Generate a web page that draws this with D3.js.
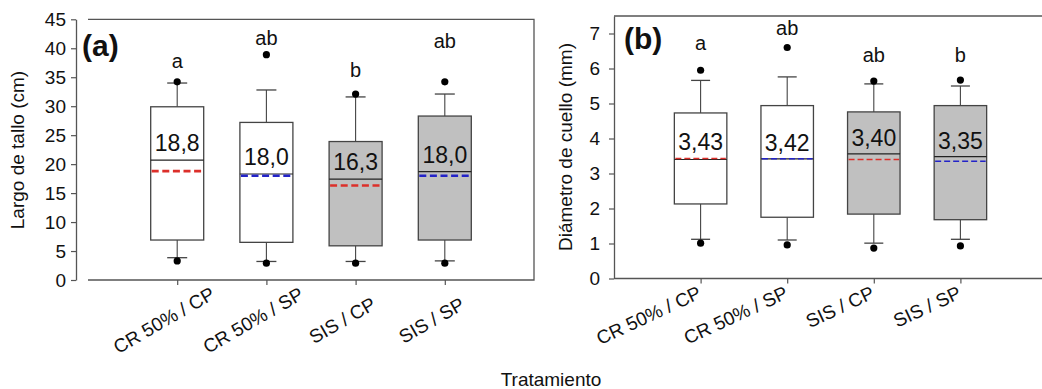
<!DOCTYPE html>
<html>
<head>
<meta charset="utf-8">
<script src="https://cdn.jsdelivr.net/npm/d3@7"></script>
<style>
  body { margin: 0; background: #fff; }
  svg { display: block; font-family: "Liberation Sans", Arial, sans-serif; }
</style>
</head>
<body>
<div id="chart"></div>
<script>
// treatments, shared by both panels
let categories = ["CR 50% / CP", "CR 50% / SP", "SIS / CP", "SIS / SP"];

// (a) Largo de tallo (cm)
let lenQ1 = [6.9, 6.5, 5.9, 6.9];
let lenQ3 = [29.9, 27.2, 23.9, 28.3];
let lenMedian = [20.7, 18.3, 17.4, 18.7];
let lenMean = [18.8, 18.0, 16.3, 18.0];
let lenWhiskLo = [3.85, 3.2, 3.2, 3.3];
let lenWhiskHi = [34.0, 32.8, 31.6, 32.1];
let lenOutliers = [[34.2, 3.3], [38.9, 2.9], [32.1, 2.9], [34.2, 2.9]];
let lenLetters = ["a", "ab", "b", "ab"];
let lenLetterAt = [36.6, 40.6, 35.1, 40.1];
let lenTicks = [0, 5, 10, 15, 20, 25, 30, 35, 40, 45];

// (b) Diámetro de cuello (mm)
let diaQ1 = [2.13, 1.75, 1.84, 1.68];
let diaQ3 = [4.73, 4.94, 4.76, 4.94];
let diaMedian = [3.40, 3.42, 3.56, 3.48];
let diaMean = [3.43, 3.42, 3.40, 3.35];
let diaWhiskLo = [1.12, 1.10, 1.01, 1.12];
let diaWhiskHi = [5.66, 5.76, 5.56, 5.50];
let diaOutliers = [[5.95, 1.01], [6.6, 0.96], [5.64, 0.87], [5.67, 0.93]];
let diaLetters = ["a", "ab", "ab", "b"];
let diaLetterAt = [6.52, 6.95, 6.18, 6.2];
let diaTicks = [0, 1, 2, 3, 4, 5, 6, 7];

let width = 1042, height = 389;

let svg = d3.select("#chart")
    .append("svg")
    .attr("width", width)
    .attr("height", height);

svg.append("rect")
    .attr("width", "100%")
    .attr("height", "100%")
    .attr("fill", "#fff");

let lineCol = "#555";
let boxCol = "#444";

function panel(opt) {
    let g = svg.append("g");

    let x = d3.scalePoint()
        .domain(categories)
        .range([opt.left, opt.right])
        .padding(1);

    let y = d3.scaleLinear()
        .domain(opt.domain)
        .range([opt.bottom, opt.top]);

    // frame (top, right, bottom)
    g.append("path")
        .attr("d", "M" + opt.frameLeft + "," + y(opt.domain[1]) + "H" + opt.right +
            "V" + opt.bottom + "H" + opt.frameLeft)
        .attr("fill", "none")
        .attr("stroke", lineCol)
        .attr("stroke-width", 1.3);

    // y axis
    let yAxis = d3.axisLeft(y)
        .tickValues(opt.ticks)
        .tickSize(5)
        .tickPadding(opt.tickPad)
        .tickSizeOuter(0);

    let ya = g.append("g")
        .attr("transform", "translate(" + opt.yAxisX + ",0)")
        .call(yAxis);
    ya.select(".domain").attr("stroke", lineCol).attr("stroke-width", 1.3);
    ya.selectAll(".tick line").attr("stroke", lineCol).attr("stroke-width", 1.2);
    ya.selectAll(".tick text")
        .attr("font-size", "19px")
        .attr("fill", "#111")
        .attr("font-family", "Liberation Sans, Arial, sans-serif");

    // x ticks
    let xAxis = d3.axisBottom(x)
        .tickSize(5)
        .tickSizeOuter(0)
        .tickFormat("");
    let xa = g.append("g")
        .attr("transform", "translate(0," + opt.bottom + ")")
        .call(xAxis);
    xa.select(".domain").remove();
    xa.selectAll(".tick line").attr("stroke", lineCol).attr("stroke-width", 1.2);

    // rotated category labels
    categories.forEach((c) => {
        let px = x(c) + opt.labDx, py = opt.bottom + opt.labDy;
        g.append("text")
            .attr("x", px)
            .attr("y", py)
            .attr("text-anchor", opt.labAnchor)
            .attr("font-size", "19px")
            .attr("fill", "#111")
            .attr("transform", "rotate(" + (-opt.labAngle) + "," + px + "," + py + ")")
            .text(c);
    });

    // y title
    g.append("text")
        .attr("transform", "translate(" + opt.titleX + "," + opt.titleY + ") rotate(-90)")
        .attr("text-anchor", "middle")
        .attr("font-size", "19px")
        .attr("fill", "#111")
        .text(opt.title);

    // panel tag
    g.append("text")
        .attr("x", opt.tagX)
        .attr("y", opt.tagY)
        .attr("font-size", "30px")
        .attr("font-weight", "bold")
        .attr("fill", "#111")
        .text(opt.tag);

    let bw = opt.boxW;
    categories.forEach((c, i) => {
        let cx = x(c);
        let sis = c.indexOf("SIS") === 0;
        let sp = c.slice(-2) === "SP";

        // whiskers
        [[opt.q3[i], opt.hi[i]], [opt.q1[i], opt.lo[i]]].forEach((w) => {
            g.append("line")
                .attr("x1", cx).attr("x2", cx)
                .attr("y1", y(w[0])).attr("y2", y(w[1]))
                .attr("stroke", boxCol).attr("stroke-width", 1.1);
            g.append("line")
                .attr("x1", cx - opt.capW / 2).attr("x2", cx + opt.capW / 2)
                .attr("y1", y(w[1])).attr("y2", y(w[1]))
                .attr("stroke", boxCol).attr("stroke-width", 1.3);
        });

        g.append("rect")
            .attr("x", cx - bw / 2)
            .attr("y", y(opt.q3[i]))
            .attr("width", bw)
            .attr("height", y(opt.q1[i]) - y(opt.q3[i]))
            .attr("fill", sis ? "#c0c0c0" : "#fff")
            .attr("stroke", boxCol)
            .attr("stroke-width", 1.3);

        g.append("line")
            .attr("x1", cx - bw / 2).attr("x2", cx + bw / 2)
            .attr("y1", y(opt.median[i])).attr("y2", y(opt.median[i]))
            .attr("stroke", "#222").attr("stroke-width", 1.2);

        g.append("line")
            .attr("x1", cx - bw / 2 + 1).attr("x2", cx + bw / 2 - 1)
            .attr("y1", y(opt.mean[i])).attr("y2", y(opt.mean[i]))
            .attr("stroke", sp ? "#2323c8" : "#dc2f2a")
            .attr("stroke-width", opt.meanW)
            .attr("stroke-dasharray", opt.dash);

        opt.out[i].forEach((v) => {
            g.append("circle")
                .attr("cx", cx).attr("cy", y(v))
                .attr("r", 3.6)
                .attr("fill", "#000");
        });

        // mean value label
        let top = Math.min(y(opt.median[i]), y(opt.mean[i]));
        g.append("text")
            .attr("x", cx)
            .attr("y", top - opt.meanLabGap)
            .attr("text-anchor", "middle")
            .attr("font-size", "23px")
            .attr("fill", "#111")
            .text(d3.format(opt.fmt)(opt.mean[i]).replace(".", ","));

        // significance letter
        g.append("text")
            .attr("x", cx)
            .attr("y", y(opt.letterAt[i]))
            .attr("text-anchor", "middle")
            .attr("font-size", "20px")
            .attr("fill", "#111")
            .text(opt.letters[i]);
    });
}

panel({
    left: 88, right: 534, frameLeft: 88, yAxisX: 76,
    top: 19.3, bottom: 280, domain: [0, 45], ticks: lenTicks, tickPad: 5,
    q1: lenQ1, q3: lenQ3, median: lenMedian, mean: lenMean,
    lo: lenWhiskLo, hi: lenWhiskHi, out: lenOutliers,
    letters: lenLetters, letterAt: lenLetterAt,
    boxW: 53, capW: 20, meanW: 2.6, dash: "7,3.6", fmt: ".1f", meanLabGap: 9,
    labAnchor: "middle", labDx: -10, labDy: 46, labAngle: 30,
    title: "Largo de tallo (cm)", titleX: 24, titleY: 150,
    tag: "(a)", tagX: 82, tagY: 56
});

panel({
    left: 614, right: 1047, frameLeft: 614, yAxisX: 614,
    top: 16, bottom: 278.5, domain: [0, 7.5], ticks: diaTicks, tickPad: 9,
    q1: diaQ1, q3: diaQ3, median: diaMedian, mean: diaMean,
    lo: diaWhiskLo, hi: diaWhiskHi, out: diaOutliers,
    letters: diaLetters, letterAt: diaLetterAt,
    boxW: 52.5, capW: 19, meanW: 1.6, dash: "6,3", fmt: ".2f", meanLabGap: 8,
    labAnchor: "end", labDx: 2, labDy: 19, labAngle: 25,
    title: "Diámetro de cuello (mm)", titleX: 572, titleY: 147,
    tag: "(b)", tagX: 624, tagY: 49
});

svg.append("text")
    .attr("x", 551)
    .attr("y", 386)
    .attr("text-anchor", "middle")
    .attr("font-size", "19px")
    .attr("fill", "#111")
    .text("Tratamiento");
</script>
</body>
</html>
